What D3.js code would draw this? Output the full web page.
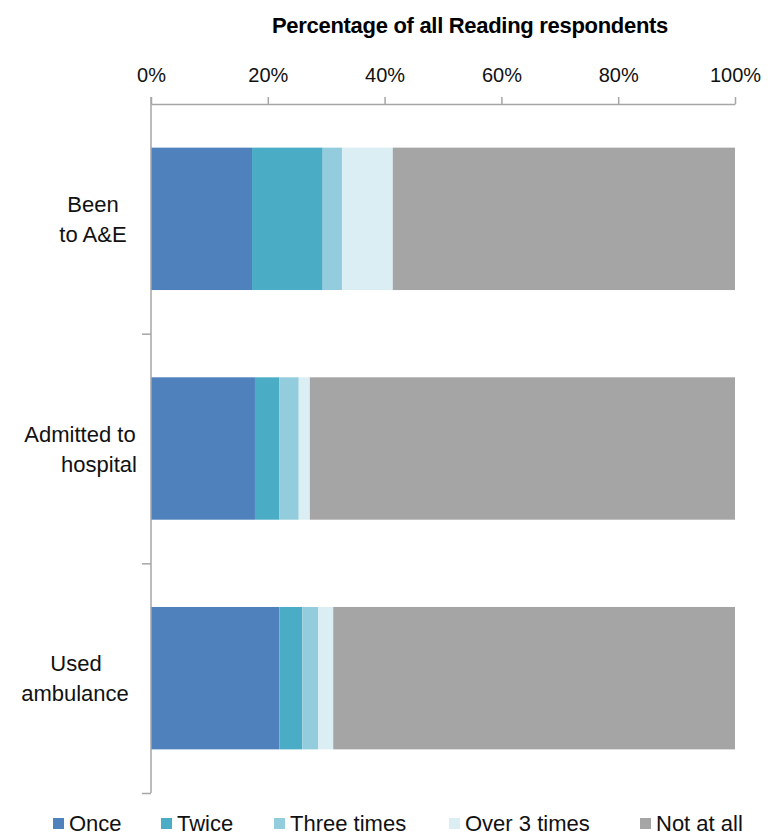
<!DOCTYPE html>
<html>
<head>
<meta charset="utf-8">
<script src="https://cdn.jsdelivr.net/npm/d3@7/dist/d3.min.js"></script>
<style>
  html, body { margin: 0; padding: 0; background: #fff; }
  svg { display: block; font-family: "Liberation Sans", Arial, sans-serif; }
</style>
</head>
<body>
<svg id="chart" width="769" height="836"></svg>
<script>
// Survey categories (each label split onto two lines)
const categories = ["Been to A&E", "Admitted to hospital", "Used ambulance"];
const categoryLines = [["Been", "to A&E"], ["Admitted to", "hospital"], ["Used", "ambulance"]];

// Frequency series, percentage of respondents per category
const seriesNames = ["Once", "Twice", "Three times", "Over 3 times", "Not at all"];
const once       = [17.3, 17.8, 22.0];
const twice      = [12.1, 4.2, 3.9];
const threeTimes = [3.3, 3.3, 2.7];
const over3Times = [8.7, 1.9, 2.6];
const notAtAll   = [58.6, 72.8, 68.8];

const tickValues = [0, 20, 40, 60, 80, 100];
const tickLabels = ["0%", "20%", "40%", "60%", "80%", "100%"];

const colors = ["#4F81BD", "#4BACC6", "#93CDDD", "#DAEEF3", "#A5A5A5"];

const seriesValues = [once, twice, threeTimes, over3Times, notAtAll];
const table = categories.map((c, i) => {
  const row = { category: c };
  seriesNames.forEach((s, j) => { row[s] = seriesValues[j][i]; });
  return row;
});

const svg = d3.select("#chart");
const plot = { left: 151, right: 735, top: 104, bottom: 793 };

const x = d3.scaleLinear().domain([0, 100]).range([plot.left, plot.right]);
const y = d3.scaleBand().domain(categories).range([plot.top, plot.bottom])
  .paddingInner(0.38).paddingOuter(0.19);

const stacked = d3.stack().keys(seriesNames)(table);
const color = d3.scaleOrdinal().domain(seriesNames).range(colors);

// Bars
svg.append("g").selectAll("g")
  .data(stacked).join("g")
  .attr("fill", d => color(d.key))
  .selectAll("rect")
  .data(d => d).join("rect")
  .attr("x", d => x(d[0]))
  .attr("y", d => y(d.data.category))
  .attr("width", d => x(d[1]) - x(d[0]))
  .attr("height", y.bandwidth());

const axisColor = "#A6A6A6";
const textColor = "#111";

// Top value axis
const xAxis = svg.append("g")
  .attr("transform", `translate(0,${plot.top})`)
  .call(d3.axisTop(x).tickValues(tickValues).tickSize(7).tickSizeOuter(0)
    .tickFormat((d, i) => tickLabels[i]));
xAxis.select(".domain").attr("stroke", axisColor).attr("stroke-width", 1.5);
xAxis.selectAll(".tick line").attr("stroke", axisColor).attr("stroke-width", 1.5);
xAxis.selectAll(".tick text")
  .attr("fill", textColor).attr("font-size", 20).attr("y", -22).attr("dy", 0);

// Left category axis: tick marks between bands
const yEdge = d3.scaleLinear().domain([0, categories.length]).range([plot.top, plot.bottom]);
const yAxis = svg.append("g").attr("transform", `translate(${plot.left},0)`)
  .call(d3.axisLeft(yEdge).tickValues(d3.range(1, categories.length + 1))
    .tickSize(9).tickSizeOuter(0).tickFormat(""));
yAxis.select(".domain").attr("stroke", axisColor).attr("stroke-width", 1.5)
  .attr("d", `M0,${plot.top - 7}V${plot.bottom}`);
yAxis.selectAll(".tick line").attr("stroke", axisColor).attr("stroke-width", 1.5);

// Category labels
const lineCenters = [[93, 93], [80, 99], [76, 75]];
categories.forEach((c, i) => {
  const cy = y(c) + y.bandwidth() / 2;
  categoryLines[i].forEach((ln, k) => {
    svg.append("text")
      .attr("x", lineCenters[i][k])
      .attr("y", cy - 7 + k * 30)
      .attr("text-anchor", "middle")
      .attr("font-size", 22)
      .attr("fill", textColor)
      .text(ln);
  });
});

// Title
svg.append("text")
  .attr("x", 470).attr("y", 33)
  .attr("text-anchor", "middle")
  .attr("font-size", 22).attr("font-weight", "bold")
  .attr("letter-spacing", -0.3)
  .attr("fill", "#000")
  .text("Percentage of all Reading respondents");

// Legend
const legendX = [53, 161, 274, 449, 640];
const legend = svg.append("g").selectAll("g")
  .data(seriesNames).join("g")
  .attr("transform", (d, i) => `translate(${legendX[i]},0)`);
legend.append("rect")
  .attr("x", 0).attr("y", 818).attr("width", 11).attr("height", 11)
  .attr("fill", d => color(d));
legend.append("text")
  .attr("x", 16).attr("y", 831)
  .attr("font-size", 22).attr("fill", textColor)
  .text(d => d);
</script>
</body>
</html>
